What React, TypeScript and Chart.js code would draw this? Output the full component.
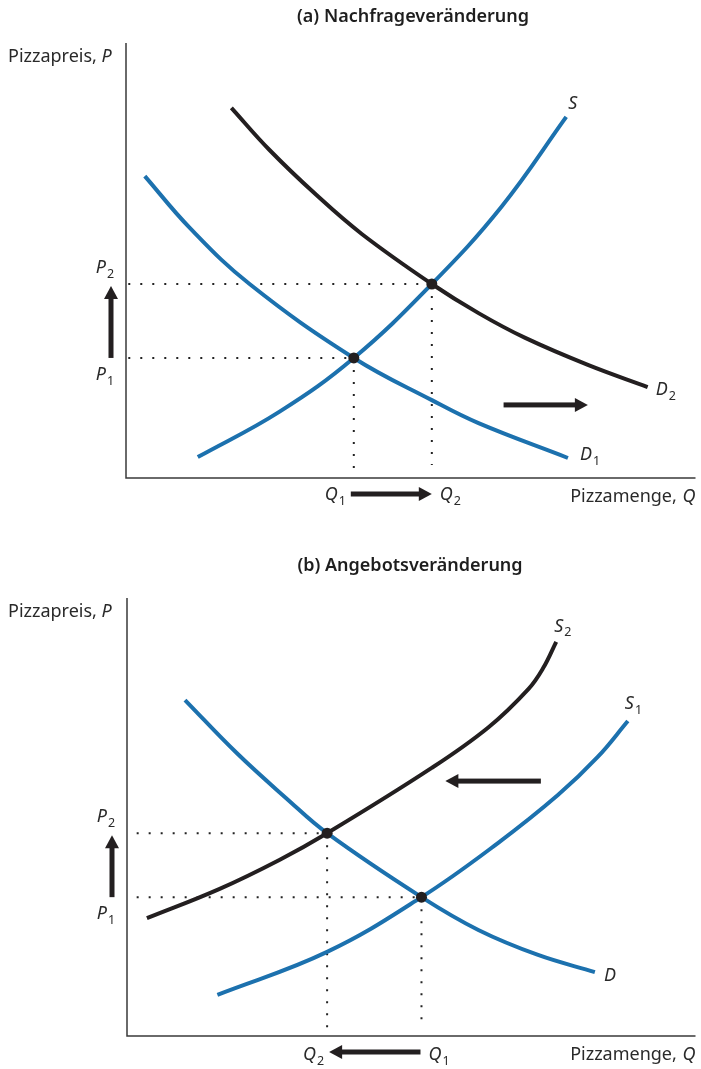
import React, { useEffect, useRef } from "react";
import { Chart, registerables } from "chart.js";

Chart.register(...registerables);

const BLUE = "#1c71ae";
const BLACK = "#231f20";
const AXIS = "#3a3a3a";
const FONT = "'Noto Sans', sans-serif";

// ---------- Panel (a) Nachfrageveränderung ----------
const A_TITLE = "(a) Nachfrageveränderung";
const A_S_Q = [12.6, 26.9, 40.0, 53.7, 65.9, 77.3];
const A_S_P = [4.8, 15.2, 27.6, 44.6, 62.3, 83.0];
const A_D1_Q = [3.3, 11.2, 21.7, 40.0, 53.7, 61.9, 77.6];
const A_D1_P = [69.4, 57.5, 44.6, 27.6, 17.9, 12.6, 4.6];
const A_D2_Q = [18.5, 25.2, 33.4, 41.4, 53.7, 61.9, 70.1, 81.1, 91.6];
const A_D2_P = [85.1, 75.4, 65.1, 56.1, 44.6, 37.9, 32.2, 26.0, 20.9];
const A_EQ_Q = [40.0, 53.7]; // Q1, Q2
const A_EQ_P = [27.6, 44.6]; // P1, P2
const A_SHIFT_Q = [66.3, 81.1];
const A_SHIFT_P = [16.8, 16.8];

// ---------- Panel (b) Angebotsveränderung ----------
const B_TITLE = "(b) Angebotsveränderung";
const B_S1_Q = [15.9, 35.2, 51.8, 65.3, 75.8, 82.8, 88.1];
const B_S1_P = [9.4, 19.2, 31.7, 44.1, 55.0, 63.7, 71.9];
const B_S2_Q = [3.5, 16.3, 26.8, 35.2, 53.6, 63.6, 70.6, 73.2, 75.5];
const B_S2_P = [26.9, 33.6, 40.2, 46.3, 61.2, 70.5, 79.2, 84.0, 90.0];
const B_D_Q = [10.2, 19.3, 28.0, 35.2, 51.8, 61.8, 72.3, 82.3];
const B_D_P = [76.7, 64.6, 54.3, 46.3, 31.7, 24.2, 18.5, 14.6];
const B_EQ_Q = [51.8, 35.2]; // Q1, Q2
const B_EQ_P = [31.7, 46.3]; // P1, P2
const B_SHIFT_Q = [72.8, 56.0];
const B_SHIFT_P = [58.2, 58.2];

const Y_LABEL = "Pizzapreis, ";
const X_LABEL = "Pizzamenge, ";

const pts = (xs: number[], ys: number[]) => xs.map((x, i) => ({ x, y: ys[i] }));

function drawArrow(ctx: CanvasRenderingContext2D, x1: number, y1: number, x2: number, y2: number) {
  const ang = Math.atan2(y2 - y1, x2 - x1);
  const len = Math.hypot(x2 - x1, y2 - y1);
  const hl = 13, hw = 7;
  ctx.save();
  ctx.translate(x1, y1);
  ctx.rotate(ang);
  ctx.fillStyle = BLACK;
  ctx.fillRect(0, -2.5, len - hl + 1, 5);
  ctx.beginPath();
  ctx.moveTo(len, 0);
  ctx.lineTo(len - hl, -hw);
  ctx.lineTo(len - hl, hw);
  ctx.closePath();
  ctx.fill();
  ctx.restore();
}

// italic letter with subscript; align 'left' | 'center' | 'right'
function drawSym(ctx: CanvasRenderingContext2D, letter: string, sub: string, x: number, y: number, align: string) {
  ctx.save();
  ctx.fillStyle = "#2a2a2a";
  ctx.textBaseline = "middle";
  ctx.textAlign = "left";
  const mainFont = `italic 18px ${FONT}`;
  const subFont = `12.5px ${FONT}`;
  ctx.font = mainFont;
  const w1 = ctx.measureText(letter).width;
  ctx.font = subFont;
  const w2 = sub ? ctx.measureText(sub).width + 1 : 0;
  const w = w1 + w2;
  let left = x;
  if (align === "center") left = x - w / 2;
  if (align === "right") left = x - w;
  ctx.font = mainFont;
  ctx.fillText(letter, left, y);
  if (sub) {
    ctx.font = subFont;
    ctx.fillText(sub, left + w1 + 1, y + 6);
  }
  ctx.restore();
}

type PanelCfg = {
  title: string;
  titleX: number;
  curves: { q: number[]; p: number[]; color: string; label: string; sub: string; dx: number; dy: number }[];
  eqQ: number[];
  eqP: number[];
  shiftQ: number[];
  shiftP: number[];
  kind: "a" | "b";
};

function makePlugin(cfg: PanelCfg) {
  return {
    id: "econ" + cfg.kind,
    beforeDatasetsDraw(chart: any) {
      const ctx: CanvasRenderingContext2D = chart.ctx;
      const a = chart.chartArea;
      ctx.save();
      ctx.strokeStyle = AXIS;
      ctx.lineWidth = 1.5;
      ctx.beginPath();
      ctx.moveTo(a.left, a.top);
      ctx.lineTo(a.left, a.bottom);
      ctx.lineTo(a.right, a.bottom);
      ctx.stroke();
      ctx.restore();
    },
    afterDatasetsDraw(chart: any) {
      const ctx: CanvasRenderingContext2D = chart.ctx;
      const a = chart.chartArea;
      const xs = chart.scales.x;
      const ys = chart.scales.y;
      ctx.save();
      // title
      ctx.fillStyle = "#1e1e1e";
      ctx.font = `600 18px ${FONT}`;
      ctx.textAlign = "center";
      ctx.textBaseline = "middle";
      ctx.fillText(cfg.title, cfg.titleX, a.top - (cfg.kind === "a" ? 26 : 32));
      // axis titles
      ctx.font = `18px ${FONT}`;
      ctx.fillStyle = "#2a2a2a";
      ctx.textAlign = "left";
      const yl = a.top + 14;
      ctx.fillText(Y_LABEL, 8, yl);
      const wY = ctx.measureText(Y_LABEL).width;
      ctx.font = `italic 18px ${FONT}`;
      ctx.fillText("P", 8 + wY, yl);
      const xl = a.bottom + 19;
      const wQ = ctx.measureText("Q").width;
      ctx.fillText("Q", a.right - wQ, xl);
      ctx.font = `18px ${FONT}`;
      ctx.textAlign = "right";
      ctx.fillText(X_LABEL, a.right - wQ - 1, xl);
      ctx.restore();

      // curve labels
      cfg.curves.forEach((c) => {
        const n = c.q.length - 1;
        const px = xs.getPixelForValue(c.q[n]) + c.dx;
        const py = ys.getPixelForValue(c.p[n]) + c.dy;
        drawSym(ctx, c.label, c.sub, px, py, "left");
      });

      // price / quantity labels and arrows
      const isA = cfg.kind === "a";
      const pLow = Math.min(...cfg.eqP), pHigh = Math.max(...cfg.eqP);
      const yLow = ys.getPixelForValue(pLow);
      const yHigh = ys.getPixelForValue(pHigh);
      const ax = a.left - 15;
      drawSym(ctx, "P", "2", ax - 6, yHigh - 16, "center");
      drawSym(ctx, "P", "1", ax - 6, yLow + 17, "center");
      drawArrow(ctx, ax, yLow, ax, yHigh + 2);

      const q1 = xs.getPixelForValue(cfg.eqQ[0]);
      const q2 = xs.getPixelForValue(cfg.eqQ[1]);
      const qy = a.bottom + 16;
      if (isA) {
        drawArrow(ctx, q1 - 3, qy, q2, qy);
        drawSym(ctx, "Q", "1", q1 - 8, qy + 1, "right");
        drawSym(ctx, "Q", "2", q2 + 8, qy + 1, "left");
      } else {
        drawArrow(ctx, q1 - 1, qy, q2 + 2, qy);
        drawSym(ctx, "Q", "1", q1 + 7, qy + 3, "left");
        drawSym(ctx, "Q", "2", q2 - 3, qy + 3, "right");
      }
      // shift arrow inside plot
      drawArrow(
        ctx,
        xs.getPixelForValue(cfg.shiftQ[0]),
        ys.getPixelForValue(cfg.shiftP[0]),
        xs.getPixelForValue(cfg.shiftQ[1]),
        ys.getPixelForValue(cfg.shiftP[1])
      );
    },
  };
}

function buildConfig(cfg: PanelCfg, padding: any) {
  const datasets: any[] = [];
  // equilibrium dots (top)
  datasets.push({
    data: pts(cfg.eqQ, cfg.eqP),
    showLine: false,
    pointRadius: 5.5,
    pointBackgroundColor: BLACK,
    pointBorderColor: BLACK,
    pointBorderWidth: 0,
    order: 0,
  });
  cfg.curves.forEach((c, i) => {
    datasets.push({
      data: pts(c.q, c.p),
      borderColor: c.color,
      borderWidth: 4,
      pointRadius: 0,
      fill: false,
      tension: 0.4,
      borderCapStyle: "butt",
      order: 1 + i,
    });
  });
  // dotted guide lines
  cfg.eqQ.forEach((q, i) => {
    const p = cfg.eqP[i];
    const startX = cfg.kind === "a" ? 0.4 : 1.7;
    const endY = cfg.kind === "a" ? (i === 0 ? 1 : 3) : 2;
    datasets.push({
      data: [{ x: startX, y: p }, { x: q, y: p }],
      borderColor: "#222",
      borderWidth: 2,
      borderDash: [2, 10],
      pointRadius: 0,
      order: 10,
    });
    datasets.push({
      data: [{ x: q, y: p }, { x: q, y: endY }],
      borderColor: "#222",
      borderWidth: 2,
      borderDash: [2, 10],
      pointRadius: 0,
      order: 10,
    });
  });
  return {
    type: "line" as const,
    data: { datasets },
    options: {
      animation: false,
      responsive: false,
      devicePixelRatio: 1,
      layout: { padding },
      scales: {
        x: { type: "linear", min: 0, max: 100, display: false },
        y: { type: "linear", min: 0, max: 100, display: false },
      },
      plugins: { legend: { display: false }, tooltip: { enabled: false }, title: { display: false } },
    },
    plugins: [makePlugin(cfg)],
  };
}

const panelA: PanelCfg = {
  title: A_TITLE,
  titleX: 413,
  kind: "a",
  curves: [
    { q: A_S_Q, p: A_S_P, color: BLUE, label: "S", sub: "", dx: 2, dy: -13 },
    { q: A_D2_Q, p: A_D2_P, color: BLACK, label: "D", sub: "2", dx: 8, dy: 3 },
    { q: A_D1_Q, p: A_D1_P, color: BLUE, label: "D", sub: "1", dx: 12, dy: -3 },
  ],
  eqQ: A_EQ_Q,
  eqP: A_EQ_P,
  shiftQ: A_SHIFT_Q,
  shiftP: A_SHIFT_P,
};

const panelB: PanelCfg = {
  title: B_TITLE,
  titleX: 410,
  kind: "b",
  curves: [
    { q: B_S2_Q, p: B_S2_P, color: BLACK, label: "S", sub: "2", dx: -2, dy: -15 },
    { q: B_S1_Q, p: B_S1_P, color: BLUE, label: "S", sub: "1", dx: -3, dy: -17 },
    { q: B_D_Q, p: B_D_P, color: BLUE, label: "D", sub: "", dx: 9, dy: 4 },
  ],
  eqQ: B_EQ_Q,
  eqP: B_EQ_P,
  shiftQ: B_SHIFT_Q,
  shiftP: B_SHIFT_P,
};

export default function App() {
  const refA = useRef<HTMLCanvasElement>(null);
  const refB = useRef<HTMLCanvasElement>(null);
  useEffect(() => {
    const cA = new Chart(refA.current!, buildConfig(panelA, { left: 126, right: 3, top: 43, bottom: 52 }) as any);
    const cB = new Chart(refB.current!, buildConfig(panelB, { left: 127, right: 3, top: 68, bottom: 33 }) as any);
    return () => {
      cA.destroy();
      cB.destroy();
    };
  }, []);
  return (
    <div style={{ position: "absolute", left: 0, top: 0, width: 701, height: 1069, background: "#fff" }}>
      <canvas ref={refA} width={701} height={530} style={{ position: "absolute", left: 0, top: 0, width: 701, height: 530 }} />
      <canvas ref={refB} width={701} height={539} style={{ position: "absolute", left: 0, top: 530, width: 701, height: 539 }} />
    </div>
  );
}
